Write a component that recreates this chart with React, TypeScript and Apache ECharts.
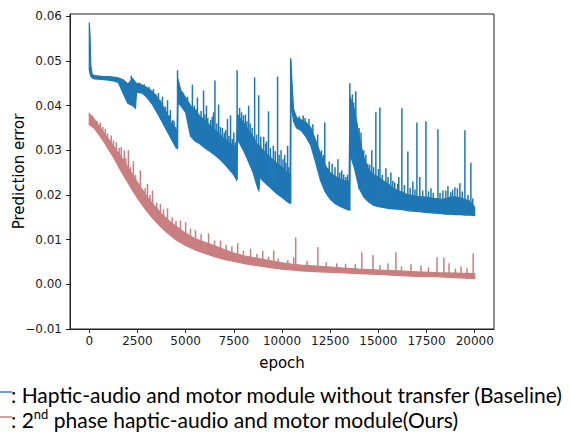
import React, { useEffect, useRef } from "react";
import * as echarts from "echarts";

const X_TICKS = [0, 2500, 5000, 7500, 10000, 12500, 15000, 17500, 20000];
const Y_TICKS = [-0.01, 0, 0.01, 0.02, 0.03, 0.04, 0.05, 0.06];

const BLUE = "#1f77b4";
const PINK = "rgb(201,127,127)";

const blueEpochs = [0, 40, 80, 150, 250, 500, 750, 1000, 1250, 1500, 1750, 2000, 2250, 2400, 2450, 2750, 3000, 3250, 3500, 3750, 4000, 4250, 4500, 4560,
  4600, 4750, 5000, 5250, 5500, 5750, 6000, 6250, 6500, 6750, 7000, 7250, 7500, 7640,
  7690, 7750, 8000, 8250, 8500, 8750, 8800, 8850, 9000, 9250, 9500, 9750, 10000, 10250, 10420,
  10460, 10520, 10600, 10750, 11000, 11250, 11500, 11750, 12000, 12250, 12500, 12750, 13000, 13250, 13480,
  13530, 13750, 14000, 14250, 14500, 14750, 15000, 15250, 15500, 15750, 16000, 16250, 16500, 16750, 17000, 17250, 17500, 17750, 18000, 18250, 18500, 18750, 19000, 19250, 19500, 19750, 20000];
const blueLow = [0.0480, 0.0472, 0.0466, 0.0462, 0.0460, 0.0459, 0.0458, 0.0457, 0.0455, 0.0452, 0.0428, 0.0405, 0.0400, 0.0394, 0.0430, 0.0428, 0.0418, 0.0404, 0.0386, 0.0366, 0.0346, 0.0326, 0.0306, 0.0304,
  0.0405, 0.0400, 0.0385, 0.0332, 0.0320, 0.0314, 0.0305, 0.0298, 0.0290, 0.0281, 0.0270, 0.0258, 0.0245, 0.0234,
  0.0322, 0.0320, 0.0300, 0.0276, 0.0250, 0.0214, 0.0210, 0.0240, 0.0232, 0.0222, 0.0212, 0.0202, 0.0195, 0.0186, 0.0181,
  0.0400, 0.0390, 0.0365, 0.0350, 0.0344, 0.0330, 0.0310, 0.0272, 0.0232, 0.0206, 0.0191, 0.0181, 0.0175, 0.0170, 0.0166,
  0.0290, 0.0262, 0.0215, 0.0195, 0.0184, 0.0177, 0.0174, 0.0172, 0.0170, 0.0169, 0.0168, 0.0167, 0.0165, 0.0164, 0.0163, 0.0162, 0.0161, 0.0160, 0.0159, 0.0158, 0.0157, 0.0157, 0.0156, 0.0156, 0.0155, 0.0155, 0.0154];
const blueHigh = [0.0586, 0.0555, 0.0490, 0.0470, 0.0467, 0.0466, 0.0465, 0.0465, 0.0464, 0.0462, 0.0458, 0.0448, 0.0460, 0.0452, 0.0450, 0.0446, 0.0440, 0.0432, 0.0420, 0.0404, 0.0385, 0.0362, 0.0345, 0.0342,
  0.0460, 0.0434, 0.0418, 0.0400, 0.0390, 0.0376, 0.0366, 0.0356, 0.0346, 0.0336, 0.0326, 0.0318, 0.0310, 0.0300,
  0.0380, 0.0376, 0.0362, 0.0346, 0.0330, 0.0310, 0.0302, 0.0310, 0.0300, 0.0290, 0.0280, 0.0270, 0.0262, 0.0250, 0.0245,
  0.0500, 0.0450, 0.0392, 0.0373, 0.0368, 0.0362, 0.0350, 0.0322, 0.0292, 0.0266, 0.0250, 0.0242, 0.0236, 0.0232, 0.0230,
  0.0420, 0.0392, 0.0332, 0.0282, 0.0256, 0.0246, 0.0240, 0.0232, 0.0225, 0.0216, 0.0210, 0.0206, 0.0201, 0.0199, 0.0197, 0.0196, 0.0195, 0.0193, 0.0192, 0.0190, 0.0192, 0.0195, 0.0196, 0.0193, 0.0190, 0.0186, 0.0172];

const blueSpikes = [[1870, 0.0455], [2180, 0.0467], [2600, 0.0452], [2850, 0.0448], [3100, 0.0442], [3330, 0.0437], [3450, 0.0426], [3590, 0.0428], [3700, 0.0412], [3800, 0.0420], [3950, 0.0398], [4060, 0.0412], [4150, 0.0378], [4210, 0.0390], [4330, 0.0368], [4400, 0.0365], [4480, 0.0352],
  [4580, 0.0479], [4700, 0.0440], [4850, 0.0430], [5100, 0.0420], [5200, 0.0405], [5350, 0.0447], [5450, 0.0400], [5550, 0.0392], [5610, 0.0418], [5800, 0.0388], [5930, 0.0434], [6000, 0.0380], [6080, 0.0400], [6150, 0.0372], [6300, 0.0368], [6380, 0.0375], [6450, 0.0385], [6520, 0.0456], [6620, 0.0360], [6710, 0.0402], [6800, 0.0352], [6900, 0.0350], [7000, 0.0340], [7080, 0.0345], [7170, 0.0370], [7250, 0.0332], [7330, 0.0378], [7420, 0.0325], [7500, 0.0340], [7580, 0.0318],
  [7670, 0.0479], [7800, 0.0395], [7900, 0.0385], [8000, 0.0378], [8100, 0.0380], [8180, 0.0365], [8270, 0.0400], [8350, 0.0360], [8450, 0.0350], [8580, 0.0463], [8680, 0.0335], [8790, 0.0423], [8900, 0.0330], [9050, 0.0330], [9150, 0.0315], [9200, 0.0320], [9300, 0.0387], [9400, 0.0305], [9550, 0.0310], [9650, 0.0298], [9770, 0.0465], [9850, 0.0290], [9950, 0.0300], [10050, 0.0280], [10140, 0.0290], [10200, 0.0272], [10290, 0.0310], [10350, 0.0262],
  [10450, 0.0506], [10700, 0.0380], [10900, 0.0376], [11100, 0.0378], [11200, 0.0372], [11400, 0.0370], [11600, 0.0358], [11850, 0.0335], [12050, 0.0300], [12150, 0.0290], [12220, 0.0362], [12370, 0.0260], [12450, 0.0275], [12600, 0.0270], [12750, 0.0262], [12900, 0.0280], [13000, 0.0250], [13100, 0.0255], [13200, 0.0246], [13310, 0.0240], [13400, 0.0245],
  [13520, 0.0450], [13650, 0.0425], [13720, 0.0407], [13830, 0.0432], [13900, 0.0360], [14000, 0.0350], [14100, 0.0340], [14240, 0.0300], [14350, 0.0290], [14450, 0.0270], [14550, 0.0268], [14660, 0.0300], [14750, 0.0262], [14870, 0.0385], [15000, 0.0258], [15080, 0.0396], [15200, 0.0245], [15390, 0.0260], [15500, 0.0240], [15650, 0.0250], [15750, 0.0232], [15850, 0.0228], [16000, 0.0225], [16060, 0.0240], [16220, 0.0394], [16350, 0.0222], [16530, 0.0297], [16650, 0.0215], [16790, 0.0230], [16900, 0.0212], [17000, 0.0362], [17150, 0.0240], [17300, 0.0210], [17470, 0.0365], [17600, 0.0208], [17730, 0.0215], [17850, 0.0205], [18090, 0.0347], [18200, 0.0205], [18350, 0.0210], [18500, 0.0210], [18610, 0.0220], [18760, 0.0206], [18850, 0.0212], [18970, 0.0217], [19100, 0.0215], [19230, 0.0226], [19350, 0.0208], [19490, 0.0345], [19650, 0.0200], [19800, 0.0272], [19900, 0.0192]];

const pinkEpochs = [0, 250, 500, 750, 1000, 1250, 1500, 1750, 2000, 2250, 2500, 2750, 3000, 3250, 3500, 3750, 4000, 4250, 4500, 4750, 5000, 5500, 6000, 6500, 7000, 7500, 8000, 8500, 9000, 9500, 10000, 10500, 11000, 12000, 13000, 14000, 15000, 16000, 17000, 18000, 19000, 20000];
const pinkLow = [0.0358, 0.0350, 0.0335, 0.0320, 0.0302, 0.0285, 0.0265, 0.0246, 0.0228, 0.0210, 0.0193, 0.0178, 0.0163, 0.0150, 0.0138, 0.0127, 0.0117, 0.0108, 0.0100, 0.0093, 0.0087, 0.0077, 0.0069, 0.0062, 0.0056, 0.0051, 0.0047, 0.0043, 0.0040, 0.0037, 0.0034, 0.0032, 0.0030, 0.0028, 0.0026, 0.0024, 0.0022, 0.0020, 0.0018, 0.0017, 0.0015, 0.0013];
const pinkHigh = [0.0382, 0.0370, 0.0355, 0.0340, 0.0325, 0.0310, 0.0295, 0.0280, 0.0262, 0.0245, 0.0228, 0.0212, 0.0196, 0.0182, 0.0170, 0.0158, 0.0148, 0.0138, 0.0130, 0.0122, 0.0114, 0.0102, 0.0094, 0.0086, 0.0078, 0.0070, 0.0064, 0.0060, 0.0056, 0.0052, 0.0048, 0.0045, 0.0043, 0.0040, 0.0037, 0.0034, 0.0032, 0.0030, 0.0028, 0.0026, 0.0025, 0.0024];
const pinkSpikes = [[150, 0.0378], [400, 0.0366], [570, 0.0362], [700, 0.0352], [830, 0.0348], [950, 0.0338], [1140, 0.0333], [1250, 0.0322], [1400, 0.0318], [1550, 0.0305], [1660, 0.0307], [1820, 0.0300], [1900, 0.0282], [2030, 0.0300], [2150, 0.0262], [2290, 0.0275], [2400, 0.0245], [2650, 0.0255], [2900, 0.0215], [3020, 0.0225], [3150, 0.0200], [3280, 0.0210], [3500, 0.0182], [3690, 0.0180], [3850, 0.0168], [4060, 0.0170], [4300, 0.0150], [4500, 0.0142], [4730, 0.0143], [5000, 0.0139], [5250, 0.0125], [5510, 0.0121], [5800, 0.0112], [6190, 0.0114], [6500, 0.0098], [6810, 0.0098], [7100, 0.0088], [7400, 0.0085], [7700, 0.0092], [8000, 0.0075], [8370, 0.0080], [8700, 0.0068], [9000, 0.0075], [9300, 0.0062], [9570, 0.0076], [9800, 0.0058], [10300, 0.0054], [10610, 0.0060], [10710, 0.0105], [11300, 0.0052], [11860, 0.0083], [12300, 0.0050], [12840, 0.0047], [13300, 0.0046], [13800, 0.0045], [14140, 0.0072], [14720, 0.0065], [15080, 0.0043], [15500, 0.0047], [15910, 0.0072], [16200, 0.0040], [16690, 0.0045], [17210, 0.0042], [17600, 0.0038], [18040, 0.0060], [18400, 0.0060], [18670, 0.0047], [19000, 0.0035], [19290, 0.0040], [19600, 0.0036], [19920, 0.0069]];

const LEGEND1 = ": Haptic-audio and motor module without transfer (Baseline)";
const LEGEND2_A = ": 2";
const LEGEND2_SUP = "nd";
const LEGEND2_B = " phase haptic-audio and motor module(Ours)";

function baseAt(epochs: number[], low: number[], e: number) {
  let idx = 0;
  for (let i = 0; i < epochs.length; i++) if (epochs[i] <= e) idx = i;
  return low[idx];
}

function bandSeries(name: string, epochs: number[], low: number[], high: number[], color: string) {
  return {
    type: "custom",
    name,
    silent: true,
    data: epochs.map((e, i) => [e, low[i], high[i]]),
    encode: { x: 0, y: [1, 2] },
    renderItem: (params: any, api: any) => {
      if (params.dataIndex !== 0) return null;
      const top = epochs.map((e, i) => api.coord([e, high[i]]));
      const bot = epochs.map((e, i) => api.coord([e, low[i]])).reverse();
      return {
        type: "polygon",
        shape: { points: top.concat(bot) },
        style: { fill: color, stroke: color, lineWidth: 1.2 },
      };
    },
  };
}

function spikeSeries(name: string, spikes: number[][], epochs: number[], low: number[], color: string) {
  return {
    type: "custom",
    name,
    silent: true,
    data: spikes.map(([e, p]) => [e, baseAt(epochs, low, e), p]),
    encode: { x: 0, y: [1, 2] },
    renderItem: (params: any, api: any) => {
      const a = api.coord([api.value(0), api.value(1)]);
      const b = api.coord([api.value(0), api.value(2)]);
      return {
        type: "line",
        shape: { x1: a[0], y1: a[1], x2: b[0], y2: b[1] },
        style: { stroke: color, lineWidth: 1.5 },
      };
    },
  };
}

export default function App() {
  const ref = useRef<HTMLDivElement>(null);
  useEffect(() => {
    if (!ref.current) return;
    const chart = echarts.init(ref.current, undefined, { renderer: "svg" });
    const labelFont = { fontFamily: "DejaVu Sans", fontSize: 12, color: "#1a1a1a" };
    chart.setOption({
      animation: false,
      backgroundColor: "#ffffff",
      grid: {
        left: 70, top: 14, right: 76, bottom: 106,
        containLabel: false, outerBoundsMode: "none",
        show: true, borderColor: "#222", borderWidth: 1, backgroundColor: "transparent",
      },
      xAxis: {
        type: "value",
        min: -1000,
        max: 21000,
        name: "epoch",
        nameLocation: "middle",
        nameGap: 26,
        nameMoveOverlap: false,
        nameTextStyle: { fontFamily: "DejaVu Sans", fontSize: 15, color: "#000" },
        axisLine: { show: true, onZero: false, lineStyle: { color: "#222", width: 1 } },
        axisTick: { show: true, length: 4, lineStyle: { color: "#222" }, customValues: X_TICKS },
        axisLabel: { ...labelFont, margin: 6, customValues: X_TICKS, formatter: (v: number) => String(v) },
        splitLine: { show: false },
      },
      yAxis: {
        type: "value",
        min: -0.01,
        max: 0.0605,
        name: "Prediction error",
        nameLocation: "middle",
        nameGap: 44,
        nameMoveOverlap: false,
        nameTextStyle: { fontFamily: "DejaVu Sans", fontSize: 15, color: "#000" },
        axisLine: { show: true, onZero: false, lineStyle: { color: "#222", width: 1 } },
        axisTick: { show: true, length: 4, lineStyle: { color: "#222" }, customValues: Y_TICKS },
        axisLabel: {
          ...labelFont,
          margin: 8,
          customValues: Y_TICKS,
          formatter: (v: number) => (v < 0 ? "\u2212" + Math.abs(v).toFixed(2) : v.toFixed(2)),
        },
        splitLine: { show: false },
      },
      series: [
        bandSeries("Baseline", blueEpochs, blueLow, blueHigh, BLUE),
        spikeSeries("Baseline spikes", blueSpikes, blueEpochs, blueLow, BLUE),
        bandSeries("Ours", pinkEpochs, pinkLow, pinkHigh, PINK),
        spikeSeries("Ours spikes", pinkSpikes, pinkEpochs, pinkLow, PINK),
      ],
      graphic: [
        { type: "line", shape: { x1: 0, y1: 392, x2: 12, y2: 392 }, style: { stroke: "#3b7fc0", lineWidth: 1.5 } },
        {
          type: "text",
          x: 11,
          y: 394,
          style: { text: LEGEND1, fontFamily: "Lato", fontSize: 21, fill: "#000", verticalAlign: "middle", align: "left" },
        },
        { type: "line", shape: { x1: 0, y1: 417, x2: 12, y2: 417 }, style: { stroke: PINK, lineWidth: 1.5 } },
        {
          type: "text",
          x: 11,
          y: 419,
          style: {
            text: "{t|" + LEGEND2_A + "}{s|" + LEGEND2_SUP + "}{t|" + LEGEND2_B + "}",
            verticalAlign: "middle",
            align: "left",
            rich: {
              t: { fontFamily: "Lato", fontSize: 21, fill: "#000" },
              s: { fontFamily: "Lato", fontSize: 13, fill: "#000", padding: [0, 0, 11, 0] },
            },
          },
        },
      ],
    });
    return () => chart.dispose();
  }, []);
  return <div ref={ref} style={{ position: "absolute", left: 0, top: 0, width: 570, height: 435 }} />;
}
